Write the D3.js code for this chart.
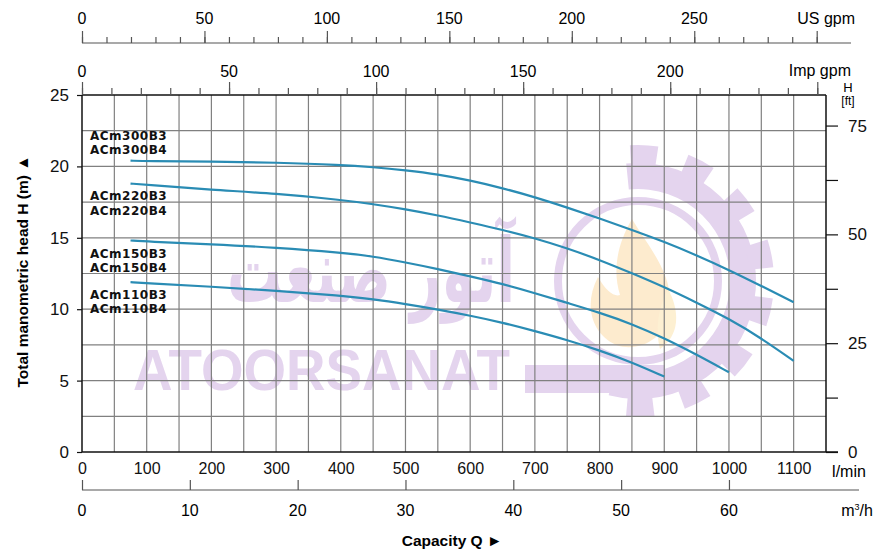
<!DOCTYPE html>
<html>
<head>
<meta charset="utf-8">
<script src="https://cdn.jsdelivr.net/npm/d3@7/dist/d3.min.js"></script>
<style>
  html, body { margin: 0; padding: 0; background: #fff; }
  svg { display: block; }
</style>
</head>
<body>
<svg id="chart" width="892" height="557" font-family="'Liberation Sans', Arial, Helvetica, sans-serif"></svg>
<script>
// ---------------- DATA ----------------
const qLmin    = [75, 100, 200, 300, 400, 450, 500, 550, 600, 650, 700, 750, 800, 850, 900, 950, 1000, 1050, 1100];
const hACm300  = [20.40, 20.37, 20.34, 20.27, 20.11, 19.95, 19.73, 19.45, 19.02, 18.48, 17.85, 17.12, 16.36, 15.55, 14.72, 13.78, 12.75, 11.63, 10.49];
const hACm220  = [18.80, 18.71, 18.36, 18.10, 17.66, 17.36, 17.00, 16.57, 16.07, 15.56, 14.97, 14.27, 13.45, 12.52, 11.55, 10.46, 9.33, 7.97, 6.38];
const hACm150  = [14.81, 14.74, 14.55, 14.32, 13.97, 13.70, 13.28, 12.82, 12.30, 11.77, 11.13, 10.44, 9.76, 8.97, 7.97, 6.82, 5.58];
const hACm110  = [11.89, 11.82, 11.58, 11.30, 10.95, 10.70, 10.36, 9.98, 9.55, 9.06, 8.47, 7.84, 7.12, 6.28, 5.28];
const seriesNames = [["ACm300B3", "ACm300B4"], ["ACm220B3", "ACm220B4"], ["ACm150B3", "ACm150B4"], ["ACm110B3", "ACm110B4"]];

const lminTicks   = [0, 100, 200, 300, 400, 500, 600, 700, 800, 900, 1000, 1100];
const m3hTicks    = [0, 10, 20, 30, 40, 50, 60];
const usGpmTicks  = [0, 50, 100, 150, 200, 250];
const impGpmTicks = [0, 50, 100, 150, 200];
const headTicks   = [0, 5, 10, 15, 20, 25];
const ftTicks     = [0, 25, 50, 75];

// ---------------- LAYOUT ----------------
const svg = d3.select("#chart");
const L = 82, R = 826, T = 95, B = 452;
const Q_MAX = 1150, H_MAX = 25;
const x = d3.scaleLinear().domain([0, Q_MAX]).range([L, R]);
const y = d3.scaleLinear().domain([0, H_MAX]).range([B, T]);
const yFt = d3.scaleLinear().domain([0, H_MAX * 3.28084]).range([B, T]);
const xUS = d3.scaleLinear().domain([0, Q_MAX / 3.78541]).range([L, R]);
const xImp = d3.scaleLinear().domain([0, Q_MAX / 4.54609]).range([L, R]);
const xM3 = d3.scaleLinear().domain([0, Q_MAX * 0.06]).range([L, R]);

const FONT = "'Liberation Sans', Arial, Helvetica, sans-serif";
const gridColor = "#808080";
const curveColor = "#2a8cb4";
const wmColor = "#e4d4ee";

// ---------------- WATERMARK ----------------
const wm = svg.append("g").attr("class", "watermark");
const gc = [638, 281];
const gear = wm.append("g").attr("transform", `translate(${gc[0]},${gc[1]})`);
gear.append("path")
  .attr("d", d3.arc()({innerRadius: 92, outerRadius: 118, startAngle: -0.1, endAngle: Math.PI * 1.08}))
  .attr("fill", wmColor);
const toothAngles = d3.range(0, 8).map(i => -0.06 + i * 0.44);
toothAngles.forEach(a => {
  gear.append("path")
    .attr("d", d3.arc()({innerRadius: 112, outerRadius: 136, startAngle: a, endAngle: a + 0.21}))
    .attr("fill", wmColor);
});
gear.append("circle").attr("r", 80).attr("fill", "none").attr("stroke", wmColor).attr("stroke-width", 8);
gear.append("path")
  .attr("d", "M -6,-62 C 12,-32 36,-6 32,30 C 28,58 0,72 -22,64 C -48,52 -54,22 -40,-4 C -32,10 -24,16 -18,14 C -26,-12 -20,-38 -6,-62 Z")
  .attr("fill", "#fde7c6").attr("opacity", 0.85);
gear.append("path")
  .attr("d", "M 30,8 C 42,30 42,54 22,68 C 18,52 18,32 30,8 Z")
  .attr("fill", "#fdf0d2");
wm.append("rect").attr("x", 525).attr("y", 365).attr("width", 140).attr("height", 28).attr("fill", wmColor);

wm.append("text")
  .attr("x", 133).attr("y", 390)
  .attr("textLength", 377).attr("lengthAdjust", "spacingAndGlyphs")
  .attr("font-size", 58).attr("font-weight", "bold")
  .attr("fill", wmColor)
  .text("ATOORSANAT");
wm.append("text")
  .attr("x", 515).attr("y", 302)
  .attr("text-anchor", "end")
  .attr("textLength", 288).attr("lengthAdjust", "spacingAndGlyphs")
  .style("font-family", "'DejaVu Sans', sans-serif")
  .attr("font-size", 90).attr("font-weight", "bold")
  .attr("fill", wmColor)
  .text("آتور صنعت");

// ---------------- GRID ----------------
const grid = svg.append("g").attr("stroke", gridColor).attr("stroke-width", 1.2);
grid.selectAll("line.v").data(d3.range(50, Q_MAX, 50)).join("line")
  .attr("x1", d => x(d)).attr("x2", d => x(d)).attr("y1", T).attr("y2", B);
grid.selectAll("line.h").data(d3.range(2.5, H_MAX, 2.5)).join("line")
  .attr("x1", L).attr("x2", R).attr("y1", d => y(d)).attr("y2", d => y(d));

// ---------------- CURVES ----------------
const allH = [hACm300, hACm220, hACm150, hACm110];
const line = d3.line().x(d => x(d[0])).y(d => y(d[1])).curve(d3.curveBasis);
svg.append("g").selectAll("path").data(allH).join("path")
  .attr("d", hs => line(hs.map((h, i) => [qLmin[i], h])))
  .attr("fill", "none").attr("stroke", curveColor).attr("stroke-width", 2.2);

// curve labels (head position of each label baseline, in metres)
const labelH = [[21.85, 20.87], [17.62, 16.62], [13.57, 12.58], [10.68, 9.70]];
const lab = svg.append("g").attr("font-size", 12).attr("font-weight", "bold")
  .attr("letter-spacing", 0.5).attr("fill", "#111");
seriesNames.forEach((pair, i) => {
  pair.forEach((name, j) => {
    lab.append("text").attr("x", 90).attr("y", y(labelH[i][j]))
      .style("font-family", "'DejaVu Sans', sans-serif").text(name);
  });
});

// ---------------- FRAME ----------------
const frame = svg.append("g").attr("stroke", "#111").attr("stroke-width", 1.5).attr("fill", "none");
frame.append("line").attr("x1", L).attr("x2", R).attr("y1", T).attr("y2", T);
frame.append("line").attr("x1", L).attr("x2", L).attr("y1", T).attr("y2", B);
frame.append("line").attr("x1", R).attr("x2", R).attr("y1", T).attr("y2", B);
frame.append("line").attr("x1", L).attr("x2", R + 12).attr("y1", B).attr("y2", B);

// ---------------- AXES ----------------
function styleAxis(g, color) {
  g.select(".domain").remove();
  g.attr("font-family", FONT);
  g.selectAll(".tick line").attr("stroke", color).attr("stroke-width", 1.2);
  g.selectAll(".tick text").attr("fill", "#111").attr("font-size", 16);
}

// Left: head (m)
const axL = svg.append("g").attr("transform", `translate(${L},0)`)
  .call(d3.axisLeft(y).tickValues(headTicks).tickSize(5).tickPadding(8).tickFormat(d3.format("d")));
styleAxis(axL, "#111");
axL.selectAll(".tick text").attr("font-size", 17);

// Right: head (ft)
const axR = svg.append("g").attr("transform", `translate(${R},0)`)
  .call(d3.axisRight(yFt).tickValues(d3.range(0, 76, 12.5)).tickSize(12).tickPadding(10)
    .tickFormat(d => ftTicks.includes(d) ? d3.format("d")(d) : ""));
styleAxis(axR, "#111");
axR.selectAll(".tick text").attr("font-size", 17);
svg.append("text").attr("x", 848).attr("y", 92).attr("text-anchor", "middle").attr("font-size", 13).text("H");
svg.append("text").attr("x", 848).attr("y", 105).attr("text-anchor", "middle").attr("font-size", 12).text("[ft]");

// Bottom: l/min
const axB = svg.append("g").attr("transform", `translate(0,${B})`)
  .call(d3.axisBottom(x).tickValues(lminTicks).tickSize(0).tickPadding(11).tickFormat(d3.format("d")));
styleAxis(axB, "#111");
svg.append("text").attr("x", 849).attr("y", 477).attr("text-anchor", "middle").attr("font-size", 16).text("l/min");

// Bottom 2: m3/h
const M3Y = 490;
svg.append("line").attr("x1", L).attr("x2", 859).attr("y1", M3Y).attr("y2", M3Y).attr("stroke", "#555").attr("stroke-width", 1.2);
const axM = svg.append("g").attr("transform", `translate(0,${M3Y})`)
  .call(d3.axisTop(xM3).tickValues(m3hTicks).tickSize(10).tickFormat(""));
styleAxis(axM, "#555");
svg.append("g").selectAll("text").data(m3hTicks).join("text")
  .attr("x", d => xM3(d)).attr("y", 516).attr("text-anchor", "middle").attr("font-size", 16)
  .text(d => d);
const m3 = svg.append("text").attr("x", 857).attr("y", 516).attr("text-anchor", "middle").attr("font-size", 16);
m3.append("tspan").text("m");
m3.append("tspan").attr("dy", -6).attr("font-size", 9).text("3");
m3.append("tspan").attr("dy", 6).text("/h");

// Top: Imp gpm (on frame)
const axImpMinor = svg.append("g").attr("transform", `translate(0,${T})`)
  .call(d3.axisTop(xImp).tickValues(d3.range(0, 251, 10)).tickSize(7).tickFormat(""));
styleAxis(axImpMinor, "#555");
const axImpMajor = svg.append("g").attr("transform", `translate(0,${T})`)
  .call(d3.axisTop(xImp).tickValues(d3.range(0, 251, 50)).tickSize(13).tickFormat(""));
styleAxis(axImpMajor, "#555");
svg.append("g").selectAll("text").data(impGpmTicks).join("text")
  .attr("x", d => xImp(d)).attr("y", 77).attr("text-anchor", "middle").attr("font-size", 16)
  .text(d => d);
svg.append("text").attr("x", 851).attr("y", 76).attr("text-anchor", "end").attr("font-size", 16).text("Imp gpm");

// Top 2: US gpm
const USY = 43;
svg.append("line").attr("x1", L).attr("x2", 851).attr("y1", USY).attr("y2", USY).attr("stroke", "#555").attr("stroke-width", 1.2);
const axUSMinor = svg.append("g").attr("transform", `translate(0,${USY})`)
  .call(d3.axisTop(xUS).tickValues(d3.range(0, 301, 10)).tickSize(6).tickFormat(""));
styleAxis(axUSMinor, "#555");
const axUSMajor = svg.append("g").attr("transform", `translate(0,${USY})`)
  .call(d3.axisTop(xUS).tickValues(d3.range(0, 301, 50)).tickSize(12).tickFormat(""));
styleAxis(axUSMajor, "#555");
svg.append("g").selectAll("text").data(usGpmTicks).join("text")
  .attr("x", d => xUS(d)).attr("y", 24).attr("text-anchor", "middle").attr("font-size", 16)
  .text(d => d);
svg.append("text").attr("x", 855).attr("y", 24).attr("text-anchor", "end").attr("font-size", 16).text("US gpm");

// ---------------- TITLES ----------------
svg.append("text")
  .attr("transform", `translate(28,${(T + B) / 2 - 2}) rotate(-90)`)
  .attr("text-anchor", "middle").attr("font-size", 15.5).attr("font-weight", "bold")
  .text("Total manometric head H (m) \u25B2");
svg.append("text")
  .attr("x", 452).attr("y", 546).attr("text-anchor", "middle").attr("font-size", 15.5).attr("font-weight", "bold")
  .text("Capacity Q  \u25BA");
</script>
</body>
</html>
